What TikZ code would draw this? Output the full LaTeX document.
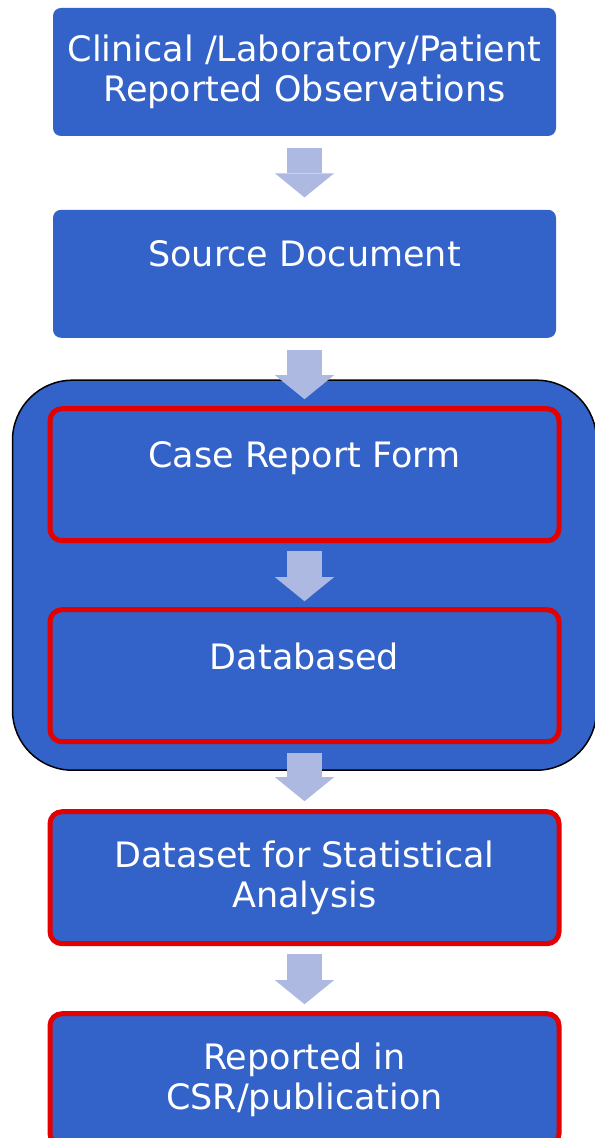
\documentclass[tikz,border=0pt]{standalone}
\usepackage{fontspec}
\setmainfont{DejaVu Sans}
\usetikzlibrary{arrows.meta,positioning,fit,backgrounds}
\definecolor{boxblue}{RGB}{51,98,200}
\definecolor{arrowblue}{RGB}{174,185,225}
\definecolor{markred}{RGB}{226,0,0}

\begin{document}
\begin{tikzpicture}[x=0.5pt,y=-0.5pt,
    flow/.style={draw=arrowblue,line width=17.5pt,
      -{Triangle[width=29.5pt,length=12pt,line width=0pt]},
      shorten <=6pt,shorten >=6pt}]
  \tikzstyle{stage}=[rectangle,fill=boxblue,text=white,rounded corners=4pt,
    minimum width=251.5pt,minimum height=64pt,align=center,
    font=\fontsize{17.5}{20}\selectfont]
  \tikzstyle{checked}=[stage,draw=markred,line width=2.5pt,rounded corners=6pt,
    minimum width=254.5pt,minimum height=66pt]
  \useasboundingbox (0,0) rectangle (594,1138);

  \node[stage] (obs) at (304.5,72) {Clinical /Laboratory/Patient\\Reported Observations};
  \node[stage] (src) [below=36.5pt of obs] {Source Document\\\mbox{}};
  \node[checked] (crf) [below=34pt of src] {Case Report Form\\\mbox{}};
  \node[checked] (db) [below=32pt of crf] {Databased\\\mbox{}};
  \node[checked] (ds) [below=32.5pt of db] {Dataset for Statistical\\Analysis};
  \node[checked] (rep) [below=32.5pt of ds] {Reported in\\CSR/publication};

  % rounded frame round the data entry steps
  \begin{scope}[on background layer]
    \node[fit=(crf)(db),draw=black,line width=0.75pt,fill=boxblue,
      rounded corners=30pt,inner xsep=17.5pt,inner ysep=13pt] (entry) {};
  \end{scope}

  \draw[flow] (obs) -- (src);
  \draw[flow,shorten >=3.5pt] (src) -- (crf);
  \draw[flow,shorten <=4pt,shorten >=3pt] (crf) -- (db);
  \draw[flow,shorten <=4.5pt,shorten >=4pt] (db) -- (ds);
  \draw[flow,shorten <=4pt,shorten >=3.5pt] (ds) -- (rep);
\end{tikzpicture}
\end{document}
